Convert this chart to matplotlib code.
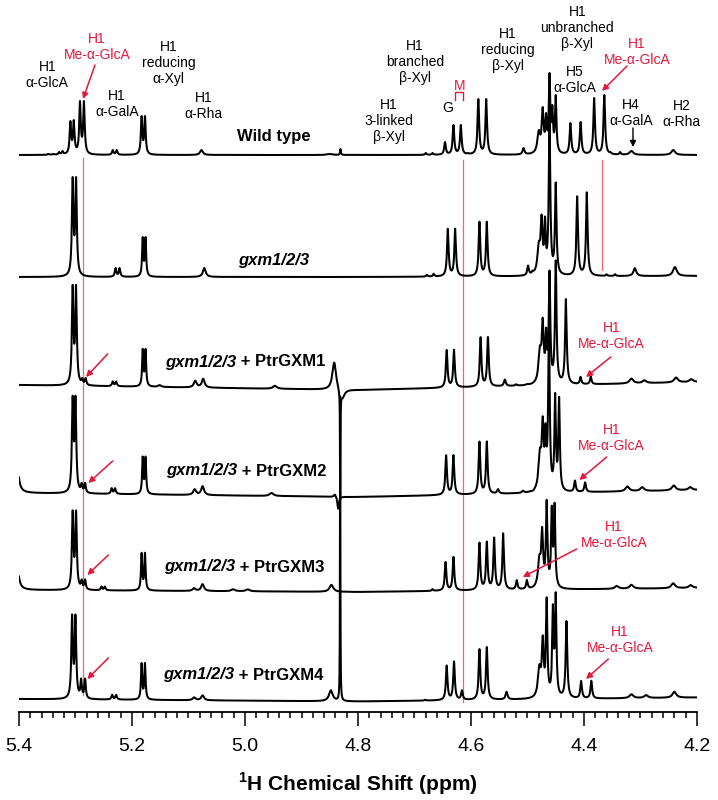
import numpy as np
import matplotlib.pyplot as plt
from matplotlib.ticker import MultipleLocator, FormatStrFormatter

plt.rcParams['font.family'] = ['Liberation Sans', 'DejaVu Sans']
plt.rcParams['mathtext.fontset'] = 'custom'
plt.rcParams['mathtext.rm'] = 'Liberation Sans'
plt.rcParams['mathtext.bf'] = 'Liberation Sans:bold'

RED = '#e3183d'
LINE_RED = '#ee6677'

# peak tables: (ppm, height, half width) -- heights in px
wild_type = [
    (5.348, 1, .002), (5.339, 1, .002), (5.329, 3, .0015), (5.323, 4, .0015),
    (5.309, 34, .0016), (5.303, 35, .0016), (5.292, 54, .0016), (5.285, 54, .0016),
    (5.234, 5, .0016), (5.227, 5, .0016), (5.183, 39, .0015), (5.177, 39, .0015),
    (5.077, 5, .003), (4.850, 1, .006), (4.831, 6, .0008),
    (4.680, 2, .0015), (4.668, 2, .0015), (4.646, 13, .0017), (4.631, 30, .0017),
    (4.618, 30, .0017), (4.605, 2, .0015), (4.587, 56, .0017), (4.573, 56, .0017),
    (4.507, 7, .002), (4.480, 25, .003), (4.473, 48, .002), (4.467, 42, .0015),
    (4.461, 82, .0015), (4.456, 50, .0015), (4.450, 60, .0015),
    (4.424, 32, .0017), (4.406, 33, .0017), (4.382, 57, .0017), (4.364, 60, .0017),
    (4.353, 3, .0015), (4.336, 3, .0015), (4.316, 4, .004), (4.242, 5, .004)]

gxm = [
    (5.305, 100, .0016), (5.299, 100, .0016), (5.229, 9, .0016), (5.222, 9, .0016),
    (5.181, 40, .0013), (5.176, 40, .0013), (5.072, 9, .003),
    (4.678, 2, .0015), (4.666, 3, .0015), (4.641, 48, .0017), (4.628, 48, .0017),
    (4.585, 55, .0017), (4.572, 55, .0017), (4.499, 11, .0017), (4.491, 6, .0017),
    (4.480, 35, .003), (4.475, 62, .002), (4.469, 60, .0015), (4.461, 160, .0016),
    (4.450, 94, .0016), (4.412, 80, .0017), (4.395, 84, .0017),
    (4.360, 2, .0015), (4.345, 2, .0015), (4.310, 8, .003), (4.239, 9, .004)]

gxm_ptr1 = [
    (5.305, 101, .0016), (5.299, 101, .0016), (5.288, 8, .0015), (5.282, 8, .0015),
    (5.234, 5, .0016), (5.228, 5, .0016), (5.181, 38, .0013), (5.176, 38, .0013),
    (5.151, 2, .003), (5.088, 7, .003), (5.074, 9, .003), (4.947, 3, .004),
    (4.842, 27, .004), (4.8315, -110, .0004), (4.828, -9, .005),
    (4.643, 38, .0017), (4.630, 38, .0017), (4.583, 50, .0017), (4.570, 50, .0017),
    (4.540, 7, .002), (4.520, 2, .002), (4.500, 2, .002),
    (4.478, 40, .003), (4.473, 68, .002), (4.467, 58, .0015), (4.461, 115, .0016),
    (4.450, 125, .0016), (4.432, 86, .0017), (4.406, 8, .0016), (4.388, 8, .0016),
    (4.316, 5, .004), (4.293, 3, .004), (4.237, 5, .004), (4.210, 3, .004)]

gxm_ptr2 = [
    (5.405, 57, .003),
    (5.305, 98, .0016), (5.300, 98, .0016), (5.289, 11, .0015), (5.283, 11, .0015),
    (5.236, 6, .0016), (5.230, 6, .0016), (5.181, 38, .0013), (5.176, 38, .0013),
    (5.089, 6, .003), (5.075, 9, .003), (4.953, 3, .004),
    (4.841, 2, .002), (4.835, -12, .0015),
    (4.644, 40, .0017), (4.631, 40, .0017), (4.585, 53, .0017), (4.572, 53, .0017),
    (4.552, 5, .002), (4.508, 3, .002), (4.490, 3, .002),
    (4.478, 45, .003), (4.473, 77, .002), (4.468, 70, .0015), (4.462, 167, .0016),
    (4.451, 100, .0015), (4.444, 96, .0015), (4.416, 12, .0017), (4.398, 10, .0017),
    (4.323, 5, .004), (4.297, 4, .004), (4.241, 5, .004), (4.212, 3, .004)]

gxm_ptr3 = [
    (5.405, 50, .003),
    (5.305, 80, .0016), (5.299, 80, .0016), (5.289, 11, .0015), (5.283, 11, .0015),
    (5.254, 4, .0015), (5.248, 4, .0015), (5.183, 38, .0013), (5.177, 38, .0013),
    (5.090, 3, .003), (5.075, 7, .003), (5.021, 2, .004), (4.995, 2, .004),
    (4.847, 7, .004),
    (4.668, 2, .0015), (4.645, 29, .0017), (4.631, 34, .0017),
    (4.585, 48, .0017), (4.572, 49, .0017), (4.559, 53, .0017), (4.543, 57, .0017),
    (4.519, 10, .0017), (4.501, 10, .0017),
    (4.479, 35, .003), (4.474, 63, .002), (4.466, 90, .0016), (4.457, 84, .0015),
    (4.452, 87, .0015),
    (4.342, 3, .004), (4.316, 4, .004), (4.242, 5, .004), (4.211, 3, .004)]

gxm_ptr4 = [
    (5.306, 85, .0016), (5.300, 85, .0016), (5.290, 21, .0015), (5.283, 21, .0015),
    (5.235, 5, .0016), (5.228, 5, .0016), (5.183, 37, .0013), (5.177, 37, .0013),
    (5.090, 3, .003), (5.075, 5, .003), (4.848, 11, .004), (4.8315, 305, .0004),
    (4.681, 1, .0015), (4.643, 35, .0017), (4.630, 39, .0017), (4.616, 10, .0017),
    (4.585, 51, .0017), (4.572, 53, .0017), (4.537, 8, .002),
    (4.479, 35, .003), (4.473, 64, .002), (4.466, 102, .0015), (4.455, 95, .0015),
    (4.450, 107, .0015), (4.431, 78, .0017), (4.405, 18, .0017), (4.387, 18, .0017),
    (4.316, 4, .004), (4.290, 3, .004), (4.240, 6, .004)]

spectra = [wild_type, gxm, gxm_ptr1, gxm_ptr2, gxm_ptr3, gxm_ptr4]
offsets = [557, 435, 324, 216, 121, 12]
# baseline level at 5.4 / 4.8 / 4.2 ppm
drifts = [(0, 0, 0), (0, 0, 1), (3, -2, 6), (3, -1, 6), (1, -1, 3), (1, -1.5, 2.5)]

ppm = np.linspace(5.404, 4.2, 12041)


def trace(peaks):
    pos = np.array([p[0] for p in peaks])
    h = np.array([p[1] for p in peaks], float)
    w = np.array([p[2] for p in peaks])
    M = w**2 / ((pos[:, None] - pos[None, :])**2 + w[None, :]**2)
    amp = np.linalg.solve(M, h)
    x = np.union1d(ppm, pos[(pos <= 5.404) & (pos >= 4.2)])
    y = (amp * w**2 / ((x[:, None] - pos)**2 + w**2)).sum(1)
    return x, y


fig = plt.figure(figsize=(7.18, 8), dpi=100)
ax = fig.add_axes([19/718, 88/800, 678/718, 712/800])

for peaks, off, d in zip(spectra, offsets, drifts):
    x, y = trace(peaks)
    base = np.interp(x, [4.2, 4.8, 5.4], [d[2], d[1], d[0]])
    ax.plot(x, y + off + base, color='black', lw=1.45, zorder=3)

# red reference lines
ax.plot([5.2867, 5.2867], [554, 17], color=LINE_RED, lw=0.9, zorder=2)
ax.plot([4.6147, 4.6147], [552, 10], color=LINE_RED, lw=0.9, zorder=2)
ax.plot([4.3687, 4.3687], [552, 442], color=LINE_RED, lw=0.9, zorder=2)

fs = 10
black_labels = [
    (5.350, 637, 'H1\nα-GlcA'), (5.2265, 608, 'H1\nα-GalA'),
    (5.135, 649, 'H1\nreducing\nα-Xyl'), (5.074, 606, 'H1\nα-Rha'),
    (4.745, 591, 'H1\n3-linked\nβ-Xyl'), (4.699, 650, 'H1\nbranched\nβ-Xyl'),
    (4.641, 604, 'G'), (4.535, 662, 'H1\nreducing\nβ-Xyl'),
    (4.412, 684, 'H1\nunbranched\nβ-Xyl'), (4.416, 632, 'H5\nα-GlcA'),
    (4.317, 599, 'H4\nα-GalA'), (4.227, 598, 'H2\nα-Rha')]
for xx, yy, s in black_labels:
    ax.text(xx, yy, s, ha='center', va='center', fontsize=fs, linespacing=1.15)

red_labels = [(5.262, 665), (4.306, 660), (4.351, 376), (4.351, 274),
              (4.347, 177), (4.336, 72)]
for xx, yy in red_labels:
    ax.text(xx, yy, 'H1\nMe-α-GlcA', ha='center', va='center', fontsize=fs,
            color=RED, linespacing=1.15)
ax.text(4.621, 626, 'M', ha='center', va='center', fontsize=fs, color=RED)
ax.plot([4.6283, 4.6283, 4.6142, 4.6142], [612, 620, 620, 612], color=RED, lw=1)

red_arrows = [((5.2655, 647), (5.2867, 613)), ((4.3239, 646), (4.3681, 621)),
              ((5.2430, 358), (5.2814, 335)), ((5.2342, 251), (5.2773, 229)),
              ((5.2419, 157), (5.2791, 137)), ((5.2419, 54), (5.2791, 33)),
              ((4.3527, 355), (4.3965, 335)), ((4.3598, 255), (4.4083, 232)),
              ((4.4129, 163), (4.5085, 135)), ((4.3570, 53), (4.3965, 33))]
for tail, head in red_arrows:
    ax.annotate('', xy=head, xytext=tail,
                arrowprops=dict(arrowstyle='-|>', color=RED, lw=1.1,
                                mutation_scale=9, shrinkA=0, shrinkB=0))
ax.annotate('', xy=(4.3133, 565), xytext=(4.3133, 584),
            arrowprops=dict(arrowstyle='-|>', color='black', lw=1,
                            mutation_scale=9, shrinkA=0, shrinkB=0))

# trace names
ax.text(4.949, 575, 'Wild type', ha='center', va='center', fontsize=12, weight='bold')
ax.text(4.949, 452, 'gxm1/2/3', ha='center', va='center', fontsize=12,
        weight='bold', style='italic')
for n, (xx, yy) in enumerate([(5.1416, 350), (5.1398, 241), (5.1434, 145),
                              (5.1451, 37)], start=1):
    t = ax.text(xx, yy, 'gxm1/2/3', ha='left', va='center', fontsize=12,
                weight='bold', style='italic')
    ax.annotate(' + PtrGXM%d' % n, xy=(1, 0), xycoords=t, ha='left', va='bottom',
                fontsize=12, weight='bold')

ax.set_xlim(5.4, 4.2)
ax.set_ylim(0, 712)
for s in ['left', 'right', 'top']:
    ax.spines[s].set_visible(False)
ax.spines['bottom'].set_linewidth(1.3)
ax.set_yticks([])
ax.xaxis.set_major_locator(MultipleLocator(0.2))
ax.xaxis.set_minor_locator(MultipleLocator(0.02))
ax.xaxis.set_major_formatter(FormatStrFormatter('%.1f'))
ax.tick_params(axis='x', which='major', direction='out', length=10, width=1.1,
               labelsize=14, pad=9)
ax.tick_params(axis='x', which='minor', direction='out', length=4.5, width=1.1)

fig.text(358/718, 16/800, r'$^{\mathbf{1}}$H Chemical Shift (ppm)', ha='center',
         va='center', fontsize=15, weight='bold')

fig.savefig('out.png', dpi=100)
